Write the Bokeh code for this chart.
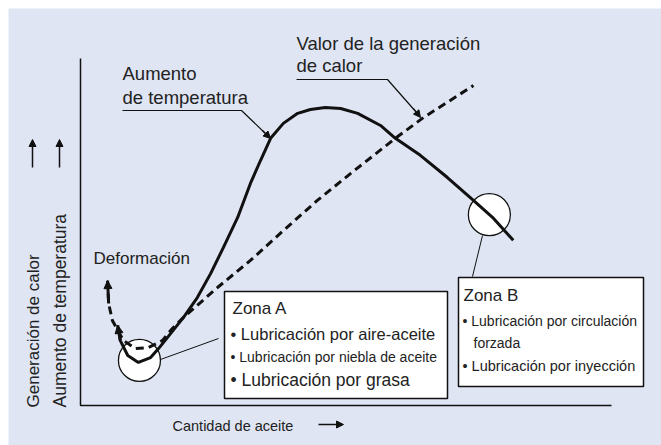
import math
from bokeh.plotting import figure
from bokeh.models import Label, Arrow, NormalHead, BoxAnnotation, Range1d
from bokeh.embed import file_html
from bokeh.resources import INLINE

# ---------------- data (arbitrary units, both axes 0..100) ----------------
oil_for_temp = [7.0, 7.5, 8.9, 10.9, 13.2, 14.7, 17.0, 19.4, 22.0, 24.5, 26.9, 29.6, 32.0, 33.9,
                35.8, 38.2, 40.9, 43.3, 46.1, 49.0, 52.2, 56.5, 59.3, 64.0, 69.1, 74.0, 77.8, 81.5]
temperature_rise = [23.1, 18.7, 14.4, 12.4, 13.8, 16.4, 20.8, 25.4, 31.1, 38.0, 45.5, 54.2, 64.0, 70.6,
                    77.0, 81.3, 84.2, 85.3, 85.9, 85.6, 84.2, 80.7, 77.0, 72.1, 65.7, 59.1, 53.9, 47.6]
oil_for_heat = [5.1, 5.3, 6.0, 8.1, 10.4, 12.8, 15.4, 17.3, 19.4, 25.8, 32.0, 38.2, 44.6, 50.9, 59.3, 64.6, 74.0]
heat_generation = [36.0, 29.4, 24.5, 18.7, 16.4, 16.7, 18.7, 22.2, 25.4, 34.0, 41.8, 50.4, 59.1, 66.9, 77.0, 83.0, 92.2]

zone_x = [11.1, 77.0]
zone_y = [13.0, 55.0]

axis_x = [0, 0, 100]
axis_y = [100, 0, 0]

y_label_heat = "Generación de calor"
y_label_temp = "Aumento de temperatura"
x_label = "Cantidad de aceite"
temp_label = ["Aumento", "de temperatura"]
heat_label = ["Valor de la generación", "de calor"]
deform_label = "Deformación"
zone_a_title = "Zona A"
zone_a_items = ["• Lubricación por aire-aceite", "• Lubricación por niebla de aceite", "• Lubricación por grasa"]
zone_b_title = "Zona B"
zone_b_items = ["• Lubricación por circulación", "forzada", "• Lubricación por inyección"]

# ---------------- layout ----------------
BG = "#dfe5f3"
INK = "#111111"
TXT = "#222222"
W, H = 661, 445
M = 8                      # white strip on the left / top
AX_L, AX_R, AX_B, AX_T = 80, 611, 405, 58  # canvas pixels of the axis frame
sx = (AX_R - AX_L) / 100.0
sy = (AX_B - AX_T) / 100.0


def X(px):
    return (px - AX_L) / sx


def Y(py):
    return (AX_B - py) / sy


p = figure(width=W, height=H, output_backend="svg", toolbar_location=None,
           x_range=Range1d(X(M), X(W)), y_range=Range1d(Y(H), Y(M)),
           x_axis_location=None, y_axis_location=None, title=None,
           min_border_left=M, min_border_top=M, min_border_right=0, min_border_bottom=0)
p.xgrid.grid_line_color = None
p.ygrid.grid_line_color = None
p.outline_line_color = None
p.background_fill_color = BG
p.border_fill_color = "white"

REG = "Liberation Sans"


def label(text, px, py, size="17px", align="left", angle=0.0):
    p.add_layout(Label(x=X(px), y=Y(py), text=text, text_font=REG, text_font_size=size,
                       text_color=TXT, text_align=align, text_baseline="middle", angle=angle))


def arrow(x0, y0, x1, y1, lw=1.5, size=7):
    p.add_layout(Arrow(end=NormalHead(size=size, fill_color=INK, line_color=INK, line_width=1),
                       x_start=x0, y_start=y0, x_end=x1, y_end=y1,
                       line_color=INK, line_width=lw))


# axes
p.line(axis_x, axis_y, line_color=INK, line_width=1.5)

# zone circles (under the curves)
p.scatter(zone_x, zone_y, size=42, fill_color="white", line_color=INK, line_width=1.3)

# leader lines from circles to boxes
p.line([X(160), X(218)], [Y(359), Y(338)], line_color=INK, line_width=1)
p.line([X(482), X(472)], [Y(235), Y(276)], line_color=INK, line_width=1)

# curves
p.line(oil_for_temp, temperature_rise, line_color=INK, line_width=3)
p.line(oil_for_heat, heat_generation, line_color=INK, line_width=3, line_dash="8 5")
arrow(oil_for_temp[1], temperature_rise[1], oil_for_temp[0], temperature_rise[0], lw=3, size=8)
arrow(oil_for_heat[1], heat_generation[1], oil_for_heat[0], heat_generation[0], lw=3, size=8)

# axis labels
label(y_label_heat, 33, 407, size="17px", angle=math.pi / 2)
label(y_label_temp, 59, 407, size="17.5px", angle=math.pi / 2)
arrow(X(32), Y(167), X(32), Y(139), lw=1.5, size=7)
arrow(X(59), Y(167), X(59), Y(139), lw=1.5, size=7)
label(x_label, 172, 425, size="14.5px")
arrow(X(318), Y(424), X(343), Y(424), lw=1.5, size=7)

# curve annotations
label(temp_label[0], 122, 73, size="18.5px")
label(temp_label[1], 122, 97, size="18.5px")
p.line([X(122), X(241), X(266)], [Y(110), Y(110), Y(134)], line_color=INK, line_width=1.2)
arrow(X(262), Y(130), X(270), Y(138), lw=1.2, size=7)

label(heat_label[0], 296, 43, size="18.5px")
label(heat_label[1], 296, 65, size="18.5px")
p.line([X(296), X(387), X(416)], [Y(79), Y(79), Y(112)], line_color=INK, line_width=1.2)
arrow(X(413), Y(108), X(420), Y(117), lw=1.2, size=7)

label(deform_label, 93, 258, size="17px")

# zone boxes
p.add_layout(BoxAnnotation(left=X(224), right=X(447), top=Y(291), bottom=Y(398),
                           fill_color="white", fill_alpha=1.0, line_color=INK, line_width=1.5,
                           line_alpha=1.0))
p.add_layout(BoxAnnotation(left=X(458), right=X(643), top=Y(277), bottom=Y(386),
                           fill_color="white", fill_alpha=1.0, line_color=INK, line_width=1.5,
                           line_alpha=1.0))

label(zone_a_title, 232, 308, size="17px")
label(zone_a_items[0], 230, 333, size="16.5px")
label(zone_a_items[1], 230, 356, size="14px")
label(zone_a_items[2], 230, 379, size="17.5px")

label(zone_b_title, 463, 295, size="17px")
label(zone_b_items[0], 462, 320, size="14px")
label(zone_b_items[1], 473, 342, size="14px")
label(zone_b_items[2], 462, 365, size="14.5px")

open("out.html", "w").write(file_html(p, INLINE))
